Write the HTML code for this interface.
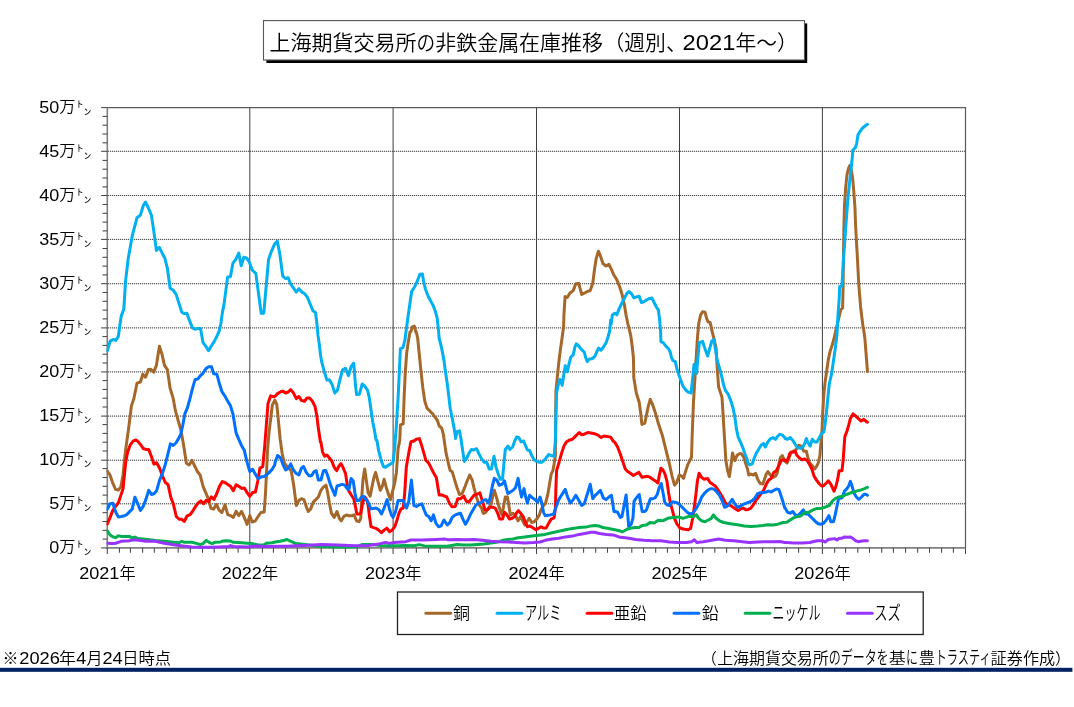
<!DOCTYPE html>
<html lang="ja"><head><meta charset="utf-8"><title>上海期貨交易所の非鉄金属在庫推移</title>
<style>html,body{margin:0;padding:0;background:#fff;}body{width:1074px;height:707px;overflow:hidden;position:relative;font-family:"Liberation Sans", "Noto Sans CJK JP", sans-serif;}svg{position:absolute;left:0;top:0;display:block;will-change:transform;}text{font-family:"Liberation Sans", "Noto Sans CJK JP", sans-serif;fill:#000;font-weight:350;}</style></head><body>
<svg width="1074" height="707" viewBox="0 0 1074 707">
<rect x="0" y="0" width="1074" height="707" fill="#fff"/>
<rect x="266.4" y="23.4" width="540.8" height="39.6" fill="#000"/>
<rect x="263.5" y="20.6" width="541" height="39.4" fill="#fff" stroke="#555" stroke-width="1.1"/>
<text x="269.5" y="50.2" font-size="20.9" textLength="147.0" lengthAdjust="spacingAndGlyphs">上海期貨交易所</text>
<text x="416.6" y="50.2" font-size="20.9" textLength="18.6" lengthAdjust="spacingAndGlyphs">の</text>
<text x="435.3" y="50.2" font-size="20.9" textLength="167.6" lengthAdjust="spacingAndGlyphs">非鉄金属在庫推移</text>
<text x="624.3" y="50.2" font-size="20.9" text-anchor="end">（</text>
<text x="624.3" y="50.2" font-size="20.9" textLength="41.6" lengthAdjust="spacingAndGlyphs">週別</text>
<text x="665.9" y="50.2" font-size="20.9">、</text>
<text x="682.6" y="49.7" font-size="21.6" textLength="52.8" lengthAdjust="spacingAndGlyphs">2021</text>
<text x="735.4" y="50.2" font-size="20.9" textLength="41.6" lengthAdjust="spacingAndGlyphs">年～</text>
<text x="777.0" y="50.2" font-size="20.9">）</text>
<line x1="108" y1="503.8" x2="965.5" y2="503.8" stroke="#dadada" stroke-width="1"/>
<line x1="108" y1="503.8" x2="965.5" y2="503.8" stroke="#444444" stroke-width="1" stroke-dasharray="1 1"/>
<line x1="108" y1="460.2" x2="965.5" y2="460.2" stroke="#dadada" stroke-width="1"/>
<line x1="108" y1="460.2" x2="965.5" y2="460.2" stroke="#444444" stroke-width="1" stroke-dasharray="1 1"/>
<line x1="108" y1="416.1" x2="965.5" y2="416.1" stroke="#dadada" stroke-width="1"/>
<line x1="108" y1="416.1" x2="965.5" y2="416.1" stroke="#444444" stroke-width="1" stroke-dasharray="1 1"/>
<line x1="108" y1="371.9" x2="965.5" y2="371.9" stroke="#dadada" stroke-width="1"/>
<line x1="108" y1="371.9" x2="965.5" y2="371.9" stroke="#444444" stroke-width="1" stroke-dasharray="1 1"/>
<line x1="108" y1="327.9" x2="965.5" y2="327.9" stroke="#dadada" stroke-width="1"/>
<line x1="108" y1="327.9" x2="965.5" y2="327.9" stroke="#444444" stroke-width="1" stroke-dasharray="1 1"/>
<line x1="108" y1="283.7" x2="965.5" y2="283.7" stroke="#dadada" stroke-width="1"/>
<line x1="108" y1="283.7" x2="965.5" y2="283.7" stroke="#444444" stroke-width="1" stroke-dasharray="1 1"/>
<line x1="108" y1="239.4" x2="965.5" y2="239.4" stroke="#dadada" stroke-width="1"/>
<line x1="108" y1="239.4" x2="965.5" y2="239.4" stroke="#444444" stroke-width="1" stroke-dasharray="1 1"/>
<line x1="108" y1="195.5" x2="965.5" y2="195.5" stroke="#dadada" stroke-width="1"/>
<line x1="108" y1="195.5" x2="965.5" y2="195.5" stroke="#444444" stroke-width="1" stroke-dasharray="1 1"/>
<line x1="108" y1="151.3" x2="965.5" y2="151.3" stroke="#dadada" stroke-width="1"/>
<line x1="108" y1="151.3" x2="965.5" y2="151.3" stroke="#444444" stroke-width="1" stroke-dasharray="1 1"/>
<line x1="249.8" y1="107.6" x2="249.8" y2="547.9" stroke="#3c3c3c" stroke-width="1.0"/>
<line x1="393.1" y1="107.6" x2="393.1" y2="547.9" stroke="#3c3c3c" stroke-width="1.0"/>
<line x1="536.5" y1="107.6" x2="536.5" y2="547.9" stroke="#3c3c3c" stroke-width="1.0"/>
<line x1="679.5" y1="107.6" x2="679.5" y2="547.9" stroke="#3c3c3c" stroke-width="1.0"/>
<line x1="822.4" y1="107.6" x2="822.4" y2="547.9" stroke="#3c3c3c" stroke-width="1.0"/>
<polyline fill="none" stroke="#5a5a5a" stroke-width="1.2" points="107.3,107.6 965.5,107.6 965.5,547.9"/>
<polyline fill="none" stroke="#808080" stroke-width="1.6" points="107.3,107.6 107.3,547.9 965.5,547.9"/>
<line x1="101.1" y1="547.9" x2="107.3" y2="547.9" stroke="#454545" stroke-width="1.05"/>
<line x1="102.5" y1="539.1" x2="107.3" y2="539.1" stroke="#454545" stroke-width="1.05"/>
<line x1="102.5" y1="530.3" x2="107.3" y2="530.3" stroke="#454545" stroke-width="1.05"/>
<line x1="102.5" y1="521.5" x2="107.3" y2="521.5" stroke="#454545" stroke-width="1.05"/>
<line x1="102.5" y1="512.7" x2="107.3" y2="512.7" stroke="#454545" stroke-width="1.05"/>
<line x1="101.1" y1="503.8" x2="107.3" y2="503.8" stroke="#454545" stroke-width="1.05"/>
<line x1="102.5" y1="495.1" x2="107.3" y2="495.1" stroke="#454545" stroke-width="1.05"/>
<line x1="102.5" y1="486.3" x2="107.3" y2="486.3" stroke="#454545" stroke-width="1.05"/>
<line x1="102.5" y1="477.5" x2="107.3" y2="477.5" stroke="#454545" stroke-width="1.05"/>
<line x1="102.5" y1="468.6" x2="107.3" y2="468.6" stroke="#454545" stroke-width="1.05"/>
<line x1="101.1" y1="460.2" x2="107.3" y2="460.2" stroke="#454545" stroke-width="1.05"/>
<line x1="102.5" y1="451.0" x2="107.3" y2="451.0" stroke="#454545" stroke-width="1.05"/>
<line x1="102.5" y1="442.2" x2="107.3" y2="442.2" stroke="#454545" stroke-width="1.05"/>
<line x1="102.5" y1="433.4" x2="107.3" y2="433.4" stroke="#454545" stroke-width="1.05"/>
<line x1="102.5" y1="424.6" x2="107.3" y2="424.6" stroke="#454545" stroke-width="1.05"/>
<line x1="101.1" y1="416.1" x2="107.3" y2="416.1" stroke="#454545" stroke-width="1.05"/>
<line x1="102.5" y1="407.0" x2="107.3" y2="407.0" stroke="#454545" stroke-width="1.05"/>
<line x1="102.5" y1="398.2" x2="107.3" y2="398.2" stroke="#454545" stroke-width="1.05"/>
<line x1="102.5" y1="389.4" x2="107.3" y2="389.4" stroke="#454545" stroke-width="1.05"/>
<line x1="102.5" y1="380.6" x2="107.3" y2="380.6" stroke="#454545" stroke-width="1.05"/>
<line x1="101.1" y1="371.9" x2="107.3" y2="371.9" stroke="#454545" stroke-width="1.05"/>
<line x1="102.5" y1="363.0" x2="107.3" y2="363.0" stroke="#454545" stroke-width="1.05"/>
<line x1="102.5" y1="354.2" x2="107.3" y2="354.2" stroke="#454545" stroke-width="1.05"/>
<line x1="102.5" y1="345.4" x2="107.3" y2="345.4" stroke="#454545" stroke-width="1.05"/>
<line x1="102.5" y1="336.6" x2="107.3" y2="336.6" stroke="#454545" stroke-width="1.05"/>
<line x1="101.1" y1="327.9" x2="107.3" y2="327.9" stroke="#454545" stroke-width="1.05"/>
<line x1="102.5" y1="318.9" x2="107.3" y2="318.9" stroke="#454545" stroke-width="1.05"/>
<line x1="102.5" y1="310.1" x2="107.3" y2="310.1" stroke="#454545" stroke-width="1.05"/>
<line x1="102.5" y1="301.3" x2="107.3" y2="301.3" stroke="#454545" stroke-width="1.05"/>
<line x1="102.5" y1="292.5" x2="107.3" y2="292.5" stroke="#454545" stroke-width="1.05"/>
<line x1="101.1" y1="283.7" x2="107.3" y2="283.7" stroke="#454545" stroke-width="1.05"/>
<line x1="102.5" y1="274.9" x2="107.3" y2="274.9" stroke="#454545" stroke-width="1.05"/>
<line x1="102.5" y1="266.1" x2="107.3" y2="266.1" stroke="#454545" stroke-width="1.05"/>
<line x1="102.5" y1="257.3" x2="107.3" y2="257.3" stroke="#454545" stroke-width="1.05"/>
<line x1="102.5" y1="248.5" x2="107.3" y2="248.5" stroke="#454545" stroke-width="1.05"/>
<line x1="101.1" y1="239.4" x2="107.3" y2="239.4" stroke="#454545" stroke-width="1.05"/>
<line x1="102.5" y1="230.9" x2="107.3" y2="230.9" stroke="#454545" stroke-width="1.05"/>
<line x1="102.5" y1="222.1" x2="107.3" y2="222.1" stroke="#454545" stroke-width="1.05"/>
<line x1="102.5" y1="213.3" x2="107.3" y2="213.3" stroke="#454545" stroke-width="1.05"/>
<line x1="102.5" y1="204.5" x2="107.3" y2="204.5" stroke="#454545" stroke-width="1.05"/>
<line x1="101.1" y1="195.5" x2="107.3" y2="195.5" stroke="#454545" stroke-width="1.05"/>
<line x1="102.5" y1="186.9" x2="107.3" y2="186.9" stroke="#454545" stroke-width="1.05"/>
<line x1="102.5" y1="178.0" x2="107.3" y2="178.0" stroke="#454545" stroke-width="1.05"/>
<line x1="102.5" y1="169.2" x2="107.3" y2="169.2" stroke="#454545" stroke-width="1.05"/>
<line x1="102.5" y1="160.4" x2="107.3" y2="160.4" stroke="#454545" stroke-width="1.05"/>
<line x1="101.1" y1="151.3" x2="107.3" y2="151.3" stroke="#454545" stroke-width="1.05"/>
<line x1="102.5" y1="142.8" x2="107.3" y2="142.8" stroke="#454545" stroke-width="1.05"/>
<line x1="102.5" y1="134.0" x2="107.3" y2="134.0" stroke="#454545" stroke-width="1.05"/>
<line x1="102.5" y1="125.2" x2="107.3" y2="125.2" stroke="#454545" stroke-width="1.05"/>
<line x1="102.5" y1="116.4" x2="107.3" y2="116.4" stroke="#454545" stroke-width="1.05"/>
<line x1="101.1" y1="107.6" x2="107.3" y2="107.6" stroke="#454545" stroke-width="1.05"/>
<line x1="107.3" y1="547.9" x2="107.3" y2="553.9" stroke="#454545" stroke-width="1.05"/>
<line x1="119.4" y1="547.9" x2="119.4" y2="552.8" stroke="#454545" stroke-width="1.05"/>
<line x1="130.4" y1="547.9" x2="130.4" y2="552.8" stroke="#454545" stroke-width="1.05"/>
<line x1="142.6" y1="547.9" x2="142.6" y2="552.8" stroke="#454545" stroke-width="1.05"/>
<line x1="154.3" y1="547.9" x2="154.3" y2="552.8" stroke="#454545" stroke-width="1.05"/>
<line x1="166.4" y1="547.9" x2="166.4" y2="552.8" stroke="#454545" stroke-width="1.05"/>
<line x1="178.2" y1="547.9" x2="178.2" y2="552.8" stroke="#454545" stroke-width="1.05"/>
<line x1="190.3" y1="547.9" x2="190.3" y2="552.8" stroke="#454545" stroke-width="1.05"/>
<line x1="202.5" y1="547.9" x2="202.5" y2="552.8" stroke="#454545" stroke-width="1.05"/>
<line x1="214.2" y1="547.9" x2="214.2" y2="552.8" stroke="#454545" stroke-width="1.05"/>
<line x1="226.4" y1="547.9" x2="226.4" y2="552.8" stroke="#454545" stroke-width="1.05"/>
<line x1="238.1" y1="547.9" x2="238.1" y2="552.8" stroke="#454545" stroke-width="1.05"/>
<line x1="249.8" y1="547.9" x2="249.8" y2="553.9" stroke="#454545" stroke-width="1.05"/>
<line x1="262.4" y1="547.9" x2="262.4" y2="552.8" stroke="#454545" stroke-width="1.05"/>
<line x1="273.4" y1="547.9" x2="273.4" y2="552.8" stroke="#454545" stroke-width="1.05"/>
<line x1="285.5" y1="547.9" x2="285.5" y2="552.8" stroke="#454545" stroke-width="1.05"/>
<line x1="297.3" y1="547.9" x2="297.3" y2="552.8" stroke="#454545" stroke-width="1.05"/>
<line x1="309.4" y1="547.9" x2="309.4" y2="552.8" stroke="#454545" stroke-width="1.05"/>
<line x1="321.2" y1="547.9" x2="321.2" y2="552.8" stroke="#454545" stroke-width="1.05"/>
<line x1="333.3" y1="547.9" x2="333.3" y2="552.8" stroke="#454545" stroke-width="1.05"/>
<line x1="345.4" y1="547.9" x2="345.4" y2="552.8" stroke="#454545" stroke-width="1.05"/>
<line x1="357.2" y1="547.9" x2="357.2" y2="552.8" stroke="#454545" stroke-width="1.05"/>
<line x1="369.3" y1="547.9" x2="369.3" y2="552.8" stroke="#454545" stroke-width="1.05"/>
<line x1="381.1" y1="547.9" x2="381.1" y2="552.8" stroke="#454545" stroke-width="1.05"/>
<line x1="393.1" y1="547.9" x2="393.1" y2="553.9" stroke="#454545" stroke-width="1.05"/>
<line x1="405.4" y1="547.9" x2="405.4" y2="552.8" stroke="#454545" stroke-width="1.05"/>
<line x1="416.3" y1="547.9" x2="416.3" y2="552.8" stroke="#454545" stroke-width="1.05"/>
<line x1="428.5" y1="547.9" x2="428.5" y2="552.8" stroke="#454545" stroke-width="1.05"/>
<line x1="440.2" y1="547.9" x2="440.2" y2="552.8" stroke="#454545" stroke-width="1.05"/>
<line x1="452.4" y1="547.9" x2="452.4" y2="552.8" stroke="#454545" stroke-width="1.05"/>
<line x1="464.1" y1="547.9" x2="464.1" y2="552.8" stroke="#454545" stroke-width="1.05"/>
<line x1="476.3" y1="547.9" x2="476.3" y2="552.8" stroke="#454545" stroke-width="1.05"/>
<line x1="488.4" y1="547.9" x2="488.4" y2="552.8" stroke="#454545" stroke-width="1.05"/>
<line x1="500.2" y1="547.9" x2="500.2" y2="552.8" stroke="#454545" stroke-width="1.05"/>
<line x1="512.3" y1="547.9" x2="512.3" y2="552.8" stroke="#454545" stroke-width="1.05"/>
<line x1="524.1" y1="547.9" x2="524.1" y2="552.8" stroke="#454545" stroke-width="1.05"/>
<line x1="536.5" y1="547.9" x2="536.5" y2="553.9" stroke="#454545" stroke-width="1.05"/>
<line x1="548.3" y1="547.9" x2="548.3" y2="552.8" stroke="#454545" stroke-width="1.05"/>
<line x1="559.7" y1="547.9" x2="559.7" y2="552.8" stroke="#454545" stroke-width="1.05"/>
<line x1="571.8" y1="547.9" x2="571.8" y2="552.8" stroke="#454545" stroke-width="1.05"/>
<line x1="583.6" y1="547.9" x2="583.6" y2="552.8" stroke="#454545" stroke-width="1.05"/>
<line x1="595.7" y1="547.9" x2="595.7" y2="552.8" stroke="#454545" stroke-width="1.05"/>
<line x1="607.5" y1="547.9" x2="607.5" y2="552.8" stroke="#454545" stroke-width="1.05"/>
<line x1="619.6" y1="547.9" x2="619.6" y2="552.8" stroke="#454545" stroke-width="1.05"/>
<line x1="631.8" y1="547.9" x2="631.8" y2="552.8" stroke="#454545" stroke-width="1.05"/>
<line x1="643.5" y1="547.9" x2="643.5" y2="552.8" stroke="#454545" stroke-width="1.05"/>
<line x1="655.7" y1="547.9" x2="655.7" y2="552.8" stroke="#454545" stroke-width="1.05"/>
<line x1="667.4" y1="547.9" x2="667.4" y2="552.8" stroke="#454545" stroke-width="1.05"/>
<line x1="679.5" y1="547.9" x2="679.5" y2="553.9" stroke="#454545" stroke-width="1.05"/>
<line x1="691.7" y1="547.9" x2="691.7" y2="552.8" stroke="#454545" stroke-width="1.05"/>
<line x1="702.7" y1="547.9" x2="702.7" y2="552.8" stroke="#454545" stroke-width="1.05"/>
<line x1="714.8" y1="547.9" x2="714.8" y2="552.8" stroke="#454545" stroke-width="1.05"/>
<line x1="726.6" y1="547.9" x2="726.6" y2="552.8" stroke="#454545" stroke-width="1.05"/>
<line x1="738.7" y1="547.9" x2="738.7" y2="552.8" stroke="#454545" stroke-width="1.05"/>
<line x1="750.5" y1="547.9" x2="750.5" y2="552.8" stroke="#454545" stroke-width="1.05"/>
<line x1="762.6" y1="547.9" x2="762.6" y2="552.8" stroke="#454545" stroke-width="1.05"/>
<line x1="774.7" y1="547.9" x2="774.7" y2="552.8" stroke="#454545" stroke-width="1.05"/>
<line x1="786.5" y1="547.9" x2="786.5" y2="552.8" stroke="#454545" stroke-width="1.05"/>
<line x1="798.6" y1="547.9" x2="798.6" y2="552.8" stroke="#454545" stroke-width="1.05"/>
<line x1="810.4" y1="547.9" x2="810.4" y2="552.8" stroke="#454545" stroke-width="1.05"/>
<line x1="822.4" y1="547.9" x2="822.4" y2="553.9" stroke="#454545" stroke-width="1.05"/>
<line x1="834.7" y1="547.9" x2="834.7" y2="552.8" stroke="#454545" stroke-width="1.05"/>
<line x1="845.6" y1="547.9" x2="845.6" y2="552.8" stroke="#454545" stroke-width="1.05"/>
<line x1="857.8" y1="547.9" x2="857.8" y2="552.8" stroke="#454545" stroke-width="1.05"/>
<line x1="869.5" y1="547.9" x2="869.5" y2="552.8" stroke="#454545" stroke-width="1.05"/>
<line x1="881.7" y1="547.9" x2="881.7" y2="552.8" stroke="#454545" stroke-width="1.05"/>
<line x1="893.4" y1="547.9" x2="893.4" y2="552.8" stroke="#454545" stroke-width="1.05"/>
<line x1="905.6" y1="547.9" x2="905.6" y2="552.8" stroke="#454545" stroke-width="1.05"/>
<line x1="917.7" y1="547.9" x2="917.7" y2="552.8" stroke="#454545" stroke-width="1.05"/>
<line x1="929.5" y1="547.9" x2="929.5" y2="552.8" stroke="#454545" stroke-width="1.05"/>
<line x1="941.6" y1="547.9" x2="941.6" y2="552.8" stroke="#454545" stroke-width="1.05"/>
<line x1="953.4" y1="547.9" x2="953.4" y2="552.8" stroke="#454545" stroke-width="1.05"/>
<line x1="965.5" y1="547.9" x2="965.5" y2="553.9" stroke="#454545" stroke-width="1.05"/>
<defs><clipPath id="plotclip"><rect x="106.5" y="100" width="870" height="452"/></clipPath></defs>
<g clip-path="url(#plotclip)">
<polyline fill="none" stroke="#a5682a" stroke-width="3" stroke-linejoin="round" stroke-linecap="round" points="107.4,471.1 110.1,475.2 112.9,483.4 115.6,489.5 118.4,489.9 120.8,487.1 123.0,475.2 124.8,456.8 126.7,442.1 128.5,429.2 131.4,406.1 133.9,398.4 137.0,383.2 140.4,382.0 142.8,374.2 145.5,377.2 148.4,369.6 150.9,369.3 153.8,372.1 156.4,365.3 159.4,346.2 162.0,354.3 164.5,365.3 167.4,369.6 170.1,388.3 173.0,397.6 175.5,411.2 180.9,430.1 183.7,445.7 186.4,463.2 189.2,465.0 191.9,460.4 194.7,466.0 197.4,471.5 200.2,475.2 203.0,486.2 205.7,492.6 208.5,499.1 210.9,508.3 213.6,509.2 216.4,504.2 219.1,510.1 221.9,512.5 225.0,504.9 227.8,514.7 230.5,515.6 233.3,517.4 236.1,511.4 238.8,515.6 241.6,511.4 244.3,517.4 247.1,524.4 249.8,515.6 252.2,522.0 255.4,520.8 258.1,516.5 260.9,512.5 264.2,511.9 265.5,493.5 266.4,475.2 267.7,447.6 269.2,431.0 272.3,405.2 274.8,400.1 276.8,404.7 278.5,421.7 280.2,439.4 282.2,453.8 284.4,463.1 287.0,466.5 291.2,470.7 293.8,486.0 296.3,505.5 298.9,500.4 301.4,498.7 303.9,499.6 306.5,507.2 308.2,511.5 310.7,508.9 313.3,502.1 315.8,499.6 318.4,497.0 320.9,490.3 323.5,486.9 326.0,485.2 327.7,492.8 329.4,503.0 331.4,513.2 334.2,517.4 337.0,511.5 339.3,518.3 341.3,520.8 343.8,516.6 346.4,514.9 348.9,515.7 351.5,515.7 354.0,514.9 356.6,520.8 359.1,521.7 360.8,518.3 361.7,497.9 363.0,479.2 364.7,469.0 366.4,480.9 368.1,492.8 370.1,496.2 371.8,487.7 373.9,477.5 375.6,472.4 377.8,480.9 380.3,490.3 382.4,486.0 384.1,479.2 386.3,487.7 388.8,495.3 390.5,499.6 392.2,492.8 394.8,482.6 396.4,472.4 398.1,448.7 399.8,440.2 400.4,425.0 403.2,423.9 404.1,397.9 405.3,372.4 406.6,353.8 408.3,341.9 410.0,332.0 410.9,331.7 412.2,326.9 414.3,326.1 416.0,332.5 416.3,332.0 417.7,338.5 419.4,355.5 421.1,372.4 422.8,387.7 424.8,401.3 427.0,408.1 429.5,410.6 432.1,413.2 434.6,416.6 437.2,420.0 439.2,425.9 441.8,428.4 443.5,435.2 445.9,452.1 448.5,463.9 450.2,470.7 452.2,471.6 454.4,479.2 457.0,487.7 459.5,494.5 462.1,493.6 464.6,487.7 467.2,480.9 469.7,475.0 472.2,480.1 473.9,487.7 476.5,497.0 479.0,504.7 481.6,508.1 483.3,513.5 485.8,512.3 488.4,508.1 490.9,504.7 492.6,497.0 494.3,490.3 496.4,497.0 498.6,505.5 500.3,510.6 502.0,514.9 504.2,503.0 505.3,497.0 507.4,497.0 508.7,504.7 510.4,514.9 513.0,513.2 515.5,515.7 518.1,520.8 520.6,516.6 523.2,521.7 524.9,525.0 526.9,521.7 529.1,518.3 531.7,522.5 534.2,521.7 536.7,519.1 539.3,514.9 541.0,509.8 543.5,505.5 545.6,503.0 547.8,494.5 549.5,484.3 551.2,474.1 552.9,470.7 554.1,463.9 555.4,455.5 555.9,391.3 557.1,379.4 558.8,362.4 560.5,348.9 562.2,337.0 563.6,326.8 563.9,315.2 565.1,296.6 567.3,297.4 569.8,293.2 573.2,290.6 575.8,283.8 578.8,283.5 580.0,288.1 581.7,294.5 584.3,293.2 587.3,291.5 590.2,290.6 592.8,283.0 594.5,269.4 596.2,258.4 598.4,251.2 600.4,255.8 602.9,263.5 606.0,266.0 608.9,264.3 611.4,269.4 614.0,275.3 616.8,279.6 619.8,287.2 622.2,294.9 624.4,305.0 626.1,315.2 627.8,323.7 628.7,326.8 630.7,335.3 632.1,345.5 633.4,357.3 633.8,377.7 636.3,393.0 639.2,402.3 640.6,412.5 641.9,424.4 644.8,423.2 646.5,415.0 648.2,406.6 650.2,399.4 652.4,404.0 655.0,411.7 656.7,417.6 658.4,423.5 660.6,430.3 662.6,436.3 666.9,453.8 669.4,463.9 672.0,475.8 674.5,485.2 676.7,482.6 679.3,475.0 681.3,475.8 683.5,478.4 685.5,471.6 687.7,464.8 689.8,460.6 691.5,457.2 692.0,440.2 692.7,421.8 693.5,401.5 694.9,379.4 696.2,357.3 697.4,338.7 698.7,323.6 700.5,315.2 702.5,311.8 705.0,312.2 706.7,318.6 708.1,322.0 710.1,322.4 711.3,327.1 711.8,330.2 713.9,338.7 716.1,348.0 716.9,362.4 717.8,376.0 718.6,387.0 720.3,392.1 722.0,397.2 722.9,411.7 723.7,425.2 725.9,460.6 727.6,470.7 729.3,476.7 731.0,465.6 732.5,452.9 734.8,460.6 737.0,455.5 739.0,453.8 741.5,453.8 744.1,458.0 745.8,463.9 747.5,469.0 748.8,475.0 750.9,474.1 753.4,475.0 755.6,473.3 757.7,479.2 760.2,483.5 762.8,484.0 764.5,479.2 766.2,474.1 767.9,471.6 770.4,475.0 772.9,477.5 775.5,476.2 777.2,473.3 778.9,463.9 780.6,457.2 782.3,455.5 784.5,460.6 785.1,461.4 787.1,463.1 789.3,457.2 791.0,452.1 793.6,451.2 796.1,449.5 798.7,445.3 801.2,446.1 803.8,451.2 806.3,451.2 808.0,458.0 809.7,463.1 812.2,465.6 814.8,469.0 816.5,466.5 818.2,463.1 819.9,455.5 820.7,445.3 821.6,436.8 822.1,428.6 822.8,411.7 823.8,394.7 825.0,382.8 826.7,370.9 828.4,359.0 830.1,351.4 832.6,343.8 834.3,337.0 840.9,309.3 842.6,308.1 843.1,286.4 843.5,252.4 843.9,227.0 844.5,205.2 845.6,188.3 847.0,174.7 848.7,167.9 849.9,165.3 851.6,171.3 852.8,179.8 853.8,191.7 855.0,208.6 855.5,223.6 856.3,238.9 857.2,254.1 858.0,269.4 858.7,283.0 859.6,294.9 860.6,306.7 861.8,316.9 863.1,327.1 863.5,328.5 864.9,338.7 866.1,353.9 866.9,364.1 867.4,371.4"/>
<polyline fill="none" stroke="#00b0f0" stroke-width="3" stroke-linejoin="round" stroke-linecap="round" points="107.3,350.9 110.2,341.1 113.2,339.5 115.8,340.4 118.3,336.5 119.5,328.0 121.2,316.1 123.8,309.3 125.5,281.8 128.0,259.8 129.2,253.0 132.2,236.0 137.0,217.7 140.4,215.1 143.3,205.5 145.5,202.1 148.4,208.0 151.4,215.1 154.0,232.6 156.4,250.4 159.4,247.4 162.5,253.8 164.8,258.1 167.4,268.3 170.1,288.3 173.3,290.3 176.0,294.1 179.8,305.9 181.8,312.2 184.4,313.6 186.9,313.2 189.4,320.4 192.5,328.0 195.0,329.2 197.9,328.5 200.5,328.5 203.0,342.4 205.7,346.2 208.6,350.6 211.5,345.8 214.1,341.6 216.8,336.5 219.3,330.6 220.8,323.8 222.5,311.9 223.9,305.1 227.6,277.1 230.4,276.7 232.9,263.2 235.8,259.4 238.8,253.0 241.2,265.7 243.9,257.2 246.8,258.1 249.4,262.3 252.2,270.0 255.8,273.4 261.2,313.2 263.8,313.2 268.5,259.8 271.4,251.3 274.8,243.6 275.1,243.8 277.3,241.2 279.8,253.9 282.7,276.0 285.6,278.6 288.2,277.7 290.7,284.2 293.4,287.9 296.3,292.1 298.9,288.7 301.9,292.1 304.8,293.8 307.3,297.2 310.2,304.0 312.9,310.8 315.5,312.5 316.7,321.8 318.0,335.4 319.2,343.6 320.6,355.5 321.8,362.2 324.3,371.6 326.9,380.1 329.4,379.7 332.0,384.3 334.8,393.1 337.4,390.3 340.1,379.2 342.6,369.9 345.5,368.2 348.4,375.8 351.1,366.5 353.7,363.1 354.5,372.4 355.4,384.3 356.6,394.5 359.4,394.2 362.2,384.0 364.7,386.0 367.6,390.3 369.3,397.9 371.0,409.8 372.7,421.7 374.4,430.1 376.1,440.2 376.9,440.3 378.6,450.4 381.2,460.6 383.4,466.5 385.4,467.3 388.0,465.6 390.5,463.9 393.1,462.2 394.8,447.0 396.4,425.0 398.1,397.9 399.3,372.4 400.4,348.7 402.9,347.8 404.9,340.2 407.1,323.5 409.2,308.3 411.7,291.3 414.6,287.0 417.3,281.1 419.9,274.3 422.4,274.0 423.6,281.1 425.3,288.7 427.9,295.5 430.4,300.6 432.9,304.9 435.5,311.7 437.2,318.4 438.5,330.3 439.2,338.5 441.4,347.0 444.0,360.6 445.1,369.2 447.1,382.8 448.8,396.4 450.2,408.3 451.9,416.7 453.6,425.2 455.3,435.4 455.6,438.5 457.0,431.7 459.5,430.8 461.2,440.2 462.9,452.1 464.3,461.4 466.8,458.0 469.2,452.9 471.4,449.5 473.9,450.0 476.5,448.7 479.0,453.8 481.6,458.9 484.1,462.2 486.7,462.2 489.2,469.0 491.4,469.0 494.0,456.3 496.0,467.3 498.6,475.0 500.3,479.2 502.5,479.2 504.2,460.6 505.3,449.5 507.9,446.1 509.9,449.5 512.6,447.0 514.7,441.0 516.7,436.8 518.9,437.6 521.1,441.9 523.7,441.0 525.7,446.1 527.4,450.0 529.6,450.4 531.7,455.5 534.2,459.7 536.7,461.4 539.3,462.2 541.8,462.2 543.9,460.6 546.1,458.0 548.6,454.6 551.2,455.5 554.1,456.3 555.4,440.2 555.9,415.0 556.6,393.0 558.3,384.5 560.0,379.4 562.2,385.3 563.9,374.3 565.3,365.8 567.3,371.8 569.0,364.1 570.7,357.3 573.2,354.8 574.9,347.2 576.3,343.8 578.3,345.5 580.9,348.9 584.3,352.2 585.6,357.3 587.2,361.6 589.4,359.0 591.9,358.7 594.8,356.5 597.0,351.4 598.7,348.0 600.9,350.2 603.3,347.2 606.0,342.9 608.0,337.0 609.7,331.0 610.6,320.3 611.1,324.2 612.3,315.2 614.8,313.2 616.8,314.9 619.3,308.4 621.9,303.0 624.4,298.3 627.0,293.2 629.2,291.5 631.7,294.0 633.8,297.9 636.3,296.9 639.2,296.2 641.4,302.5 643.9,301.7 646.5,300.0 649.0,298.6 651.9,297.9 654.1,302.5 656.2,306.7 658.4,310.1 659.7,320.3 660.6,331.9 660.9,341.7 663.5,342.9 666.0,346.3 668.6,348.9 670.3,352.2 671.4,357.3 672.8,360.4 675.3,361.6 677.0,369.2 678.7,374.3 680.4,379.4 683.0,386.2 685.5,389.6 688.1,392.1 691.1,393.0 692.7,377.7 694.0,364.5 695.4,365.0 696.6,373.5 697.9,357.3 699.4,342.9 702.5,341.2 705.0,348.9 707.6,356.0 710.1,347.2 711.8,341.2 713.9,339.5 715.6,350.6 716.9,359.0 718.6,365.0 720.3,370.9 722.0,377.7 723.7,385.3 725.4,390.4 728.0,393.8 730.5,399.8 733.1,408.3 734.8,416.7 736.4,428.6 738.1,436.8 740.7,442.7 743.2,448.7 744.9,453.8 746.6,458.0 748.3,463.9 750.0,464.8 752.2,463.9 753.9,458.9 756.0,453.8 758.5,449.5 761.1,445.3 763.6,443.6 765.3,447.0 767.9,441.9 770.4,438.8 772.9,437.6 775.5,439.3 777.2,436.8 779.7,434.2 782.3,435.1 784.8,437.6 785.1,438.5 787.6,439.3 790.2,437.6 792.7,440.2 795.3,444.4 797.8,447.8 800.4,448.3 802.9,447.0 805.1,442.7 806.3,438.5 808.0,442.7 810.2,446.1 812.2,439.3 814.8,441.9 817.0,441.9 819.4,437.6 821.6,433.4 823.8,432.0 825.0,425.2 826.2,415.0 827.5,401.5 829.2,384.5 831.8,372.6 833.5,360.7 835.2,348.9 836.9,335.3 838.0,315.2 839.2,298.3 839.7,286.4 841.9,286.0 842.6,274.5 843.6,257.5 844.8,240.6 846.0,223.6 848.2,195.0 849.9,179.8 851.2,167.9 852.4,156.0 852.8,150.1 855.5,147.5 856.7,143.3 858.0,134.8 860.1,131.4 862.6,128.0 865.2,125.8 867.4,124.3"/>
<polyline fill="none" stroke="#ff0000" stroke-width="3" stroke-linejoin="round" stroke-linecap="round" points="107.4,523.9 110.1,517.4 112.9,510.1 115.6,506.4 118.4,502.7 120.8,495.4 123.0,488.9 125.7,462.3 127.6,452.2 130.3,444.8 133.1,441.1 135.9,439.9 138.6,442.1 141.4,445.7 143.2,448.5 146.0,449.4 148.7,449.4 151.5,456.8 153.9,464.1 156.6,462.7 159.4,467.8 162.5,476.1 165.3,482.5 168.0,484.4 170.8,497.2 173.5,504.6 176.3,516.5 179.1,519.3 181.8,519.3 184.2,521.5 187.0,516.0 190.1,514.7 192.8,511.0 195.6,506.4 198.4,502.7 200.8,500.9 203.5,503.7 206.3,500.3 208.5,501.8 211.2,496.9 214.0,499.4 216.8,493.5 219.5,486.2 222.3,481.6 225.0,482.5 227.8,484.4 230.5,486.2 233.3,490.8 236.1,484.7 238.8,486.2 241.6,488.4 244.3,488.0 247.1,492.6 249.8,496.3 252.6,492.6 255.4,492.1 257.8,480.7 260.0,467.8 262.7,466.9 264.6,447.6 268.0,403.5 270.6,395.9 273.5,396.7 275.1,396.2 277.6,393.6 280.2,392.0 282.7,391.1 285.6,393.1 288.2,392.0 290.7,389.7 293.4,392.8 296.3,398.7 298.9,396.5 301.4,400.4 304.5,401.3 307.0,397.9 309.5,397.9 312.4,401.3 315.0,406.4 316.7,414.9 318.4,428.4 320.4,442.0 320.9,441.9 322.6,452.1 324.7,456.3 326.9,455.1 329.4,458.0 332.0,461.4 334.2,467.3 336.7,470.7 338.7,466.5 340.9,463.6 343.0,467.3 345.5,473.3 347.2,484.3 348.9,491.1 351.5,495.3 353.7,498.7 355.4,506.4 356.9,514.0 359.1,514.0 360.8,513.2 363.0,501.3 365.0,497.0 367.6,501.3 369.3,514.9 371.0,526.7 373.5,527.6 376.1,528.4 378.6,530.1 381.5,532.7 384.1,530.1 386.8,528.1 389.7,531.8 392.2,530.1 394.8,526.7 397.0,520.0 399.0,513.2 401.0,508.9 403.2,508.1 404.6,494.5 406.3,467.3 408.3,455.5 410.9,441.9 411.4,441.5 413.4,441.0 413.9,441.2 416.3,439.2 419.4,438.6 421.6,445.3 423.6,452.1 425.8,460.2 428.7,463.1 431.2,468.2 433.8,473.3 436.3,477.5 438.0,487.7 439.2,495.0 441.8,495.0 444.0,495.9 446.8,497.0 449.3,503.0 451.9,506.7 455.3,506.4 457.8,498.7 460.4,498.7 463.8,496.2 466.3,501.3 468.9,502.1 471.4,498.7 473.9,495.3 476.5,494.5 479.9,492.8 482.4,501.3 485.0,509.8 487.5,509.8 490.1,507.2 492.6,507.2 495.2,508.1 497.7,513.2 499.7,519.1 502.5,519.1 504.5,512.3 507.0,514.9 509.6,519.1 512.1,518.3 514.7,516.6 516.4,513.2 518.4,510.6 520.6,513.2 523.2,516.6 525.4,522.5 527.4,526.7 530.0,525.9 532.5,527.6 535.9,529.8 538.4,528.4 541.0,526.7 543.5,528.1 546.1,528.1 548.6,523.4 551.2,519.1 554.1,517.9 555.4,508.1 555.9,487.7 556.6,470.7 558.8,463.1 561.4,453.8 563.9,446.1 566.4,441.9 569.0,440.2 572.4,439.3 575.8,435.9 579.2,432.5 581.7,434.8 584.3,434.2 587.7,432.5 591.1,433.1 594.5,433.7 597.9,435.1 601.2,437.6 603.8,435.9 607.2,436.4 610.6,437.1 613.1,441.0 615.1,442.7 617.6,447.0 620.2,453.8 622.7,461.4 625.3,469.0 627.8,471.6 630.4,473.3 633.4,475.5 636.3,473.8 638.9,472.4 641.9,477.2 644.8,476.7 647.3,476.3 649.9,477.2 652.4,478.9 655.5,480.9 658.0,483.0 659.2,475.8 660.9,468.2 662.6,469.4 664.7,473.3 666.9,480.9 668.6,492.8 670.3,503.0 672.0,508.9 674.5,518.3 677.0,524.2 679.6,527.6 682.1,528.8 684.7,529.3 688.1,529.8 690.6,528.4 692.7,518.3 694.4,506.4 696.1,492.8 697.4,480.9 699.1,473.3 701.7,477.5 704.2,479.2 707.6,478.4 710.1,482.6 712.7,484.3 715.2,486.0 717.8,489.4 720.3,493.6 722.9,497.9 725.4,503.0 728.0,504.7 730.5,505.5 733.1,507.2 735.6,508.9 738.1,510.6 740.7,508.9 743.2,508.1 745.8,509.8 748.3,509.4 750.9,508.1 753.4,504.7 756.0,500.4 758.5,497.0 761.1,493.6 763.6,490.3 766.2,484.3 768.7,480.1 771.2,478.4 773.8,472.4 776.3,470.7 778.9,465.6 781.1,460.6 784.0,459.7 786.8,461.4 788.5,457.2 790.2,452.9 792.7,452.1 795.3,451.2 797.0,455.5 799.5,458.0 802.1,459.7 804.6,458.9 807.2,460.6 809.7,464.8 811.9,469.0 813.9,475.8 816.5,480.1 819.0,483.5 821.6,486.0 823.3,486.0 825.8,483.5 828.4,480.9 830.9,484.3 834.0,491.1 836.0,486.0 837.7,479.2 839.1,470.7 842.0,470.7 843.1,460.6 844.2,445.3 844.8,436.8 845.3,435.4 847.0,431.0 848.7,425.2 850.4,418.4 853.0,413.9 855.5,415.9 858.1,418.4 861.1,421.0 863.7,419.3 865.7,421.0 867.4,422.2"/>
<polyline fill="none" stroke="#0070ff" stroke-width="3" stroke-linejoin="round" stroke-linecap="round" points="107.4,509.2 110.1,503.7 112.9,503.3 115.6,511.9 118.4,516.9 121.1,516.5 123.9,516.0 126.7,514.7 129.4,511.9 132.2,509.2 134.9,497.2 137.7,503.7 140.4,510.5 143.2,506.4 146.0,499.1 148.7,490.4 151.5,494.5 154.2,493.5 156.6,490.8 159.4,480.7 162.1,474.2 164.9,466.0 167.7,454.9 170.4,443.9 173.2,445.4 175.9,443.0 178.7,438.4 180.9,433.8 182.7,425.5 184.9,413.7 187.4,407.8 190.0,398.4 192.5,388.3 195.0,379.8 197.9,378.9 200.5,375.5 203.0,373.3 206.1,368.4 208.6,366.7 211.5,366.7 213.7,373.8 216.8,374.2 219.3,383.2 221.9,391.7 224.8,395.9 227.6,401.0 230.4,405.6 232.9,413.7 236.1,432.9 238.8,439.3 241.6,445.7 244.3,450.3 247.1,462.3 249.8,471.5 252.6,469.3 255.4,474.2 258.1,478.8 260.9,477.0 263.6,476.6 266.4,475.2 269.2,472.4 271.9,469.6 274.7,465.0 275.1,462.2 277.6,455.5 280.5,458.0 283.1,464.8 285.6,469.9 288.2,468.2 290.7,463.9 293.4,469.9 296.0,473.3 298.9,475.0 301.4,468.2 303.6,466.5 306.2,472.4 309.0,475.8 311.6,475.8 314.1,471.6 316.2,470.7 318.4,480.1 320.9,480.1 323.5,470.7 325.7,470.4 327.7,475.8 330.3,484.3 332.8,490.3 335.0,495.3 337.0,486.0 339.6,485.2 342.1,484.3 344.7,485.2 347.2,488.6 348.9,489.4 351.1,478.4 353.2,480.9 354.9,492.8 356.6,500.4 359.1,500.4 361.7,497.0 363.4,496.2 365.9,499.6 368.4,503.0 371.0,508.9 373.5,508.4 376.1,508.1 379.0,509.8 381.5,514.0 384.1,508.1 387.1,499.6 389.7,509.8 391.4,514.9 393.1,517.4 395.6,511.5 398.1,500.4 400.7,500.4 403.2,500.4 404.9,505.5 406.6,508.1 408.8,501.3 411.4,480.1 413.9,505.5 416.5,506.4 419.4,504.7 421.9,503.8 424.1,509.8 426.2,514.9 428.7,516.6 431.2,520.8 433.5,514.9 436.0,523.4 438.5,526.7 441.1,525.9 444.0,520.0 447.3,525.0 449.8,522.5 452.2,517.4 455.3,514.9 457.8,514.0 460.4,513.2 462.9,519.1 465.5,524.2 468.0,520.0 470.6,514.0 473.1,509.8 475.6,505.5 478.2,503.0 480.7,503.0 483.3,500.4 485.8,499.6 488.4,503.0 490.1,497.9 492.3,486.0 494.3,478.4 496.9,480.1 499.1,485.2 502.0,484.3 504.5,480.9 506.2,487.7 507.9,493.6 510.4,492.0 513.0,490.3 515.5,487.7 518.1,478.4 519.8,488.6 521.5,497.0 524.0,488.6 525.7,497.0 527.4,503.0 529.6,495.3 532.5,497.9 535.0,499.6 537.6,502.1 540.1,497.0 541.8,503.0 543.5,512.3 545.2,515.7 547.8,515.2 550.3,514.9 553.7,514.0 556.3,506.4 558.8,499.6 561.4,495.3 565.3,489.4 567.6,497.0 570.4,503.0 573.2,499.6 575.8,495.3 578.3,499.6 581.7,505.5 584.3,503.8 587.7,492.8 590.2,484.3 592.8,498.7 595.3,495.3 597.9,492.8 600.4,490.3 603.3,497.9 606.0,499.6 608.9,497.0 611.4,495.3 614.0,511.5 615.1,511.5 617.6,512.3 620.2,517.4 621.9,516.6 623.9,506.4 626.1,495.0 627.5,511.5 628.7,526.7 631.2,524.2 632.9,518.3 634.1,501.3 636.3,497.9 639.2,494.5 640.6,503.0 642.2,511.5 644.8,511.5 646.5,509.8 648.2,504.7 650.4,498.7 652.8,498.7 655.0,497.9 657.2,494.5 659.2,487.7 661.3,483.5 663.0,492.8 664.7,502.1 666.9,504.7 669.4,505.5 672.0,502.1 674.5,502.1 677.0,502.6 679.6,504.7 682.1,507.2 684.7,509.8 687.2,512.3 689.8,514.0 692.7,513.2 694.9,510.6 697.4,506.4 699.6,502.1 701.7,497.0 704.2,493.6 706.7,491.1 709.3,489.1 711.8,488.6 714.4,489.4 716.9,492.0 719.5,495.3 722.0,500.4 724.6,507.2 727.1,506.4 729.7,503.0 732.2,499.3 734.8,503.8 737.3,507.2 739.8,506.4 742.4,504.7 745.8,503.3 749.2,502.1 752.6,500.4 755.1,497.9 757.7,493.6 760.2,492.8 763.6,492.5 766.2,492.0 768.7,491.1 771.2,492.0 773.8,490.3 776.3,489.1 778.9,489.4 780.6,494.5 782.8,501.3 784.8,508.1 785.1,508.1 787.6,512.3 790.2,513.2 792.7,511.5 795.3,514.9 797.8,515.7 800.4,513.2 803.4,509.8 805.5,514.0 808.0,514.0 810.6,516.6 813.1,519.1 815.6,521.7 818.2,523.7 820.7,524.2 823.3,523.4 825.8,520.8 828.9,515.7 830.9,521.7 833.5,521.7 835.2,514.9 836.9,506.4 838.6,498.7 842.0,497.9 844.5,491.1 847.0,488.6 848.7,486.0 850.4,481.3 852.1,486.0 853.8,492.8 856.4,497.0 858.9,499.3 861.5,497.0 864.0,494.2 865.7,494.2 867.4,495.3"/>
<polyline fill="none" stroke="#00b050" stroke-width="3" stroke-linejoin="round" stroke-linecap="round" points="107.4,531.2 110.1,534.9 112.9,536.8 115.6,537.7 118.4,535.8 121.1,536.4 129.4,536.4 132.2,538.0 134.9,537.1 137.7,538.6 147.8,539.5 155.2,540.4 164.4,541.3 173.5,542.3 179.1,542.8 181.8,541.3 184.6,542.3 191.9,542.3 197.4,543.6 200.2,544.7 203.0,543.6 206.3,540.4 209.0,542.3 212.2,543.6 214.9,542.3 220.4,541.9 223.2,541.0 225.9,540.8 230.5,541.0 233.3,542.3 241.6,542.8 247.1,543.2 252.6,543.6 258.1,545.0 263.6,545.0 266.4,543.2 271.9,542.8 275.1,542.0 280.2,541.2 284.4,540.3 287.0,539.5 290.4,541.2 295.5,543.4 300.6,544.1 309.0,545.1 320.9,546.4 334.5,546.9 346.4,546.8 351.5,547.1 358.3,546.4 362.5,544.4 366.7,544.6 371.8,544.6 380.3,545.4 388.8,545.8 397.3,545.8 405.8,545.4 414.3,545.8 419.4,544.6 424.5,545.9 432.9,546.3 439.7,546.3 446.8,546.3 451.9,545.4 457.0,544.6 463.8,545.1 470.6,545.1 477.3,544.6 484.1,544.1 490.9,542.9 497.7,542.0 502.8,540.3 507.9,539.5 513.0,539.0 518.1,537.8 524.9,536.9 531.7,536.1 538.4,535.2 545.2,534.4 552.0,532.7 558.8,531.3 565.6,529.8 572.4,528.4 579.2,527.6 586.0,527.1 591.1,525.9 595.3,525.4 598.7,525.9 602.9,527.6 609.7,528.8 614.8,529.8 618.5,530.5 622.7,531.8 627.0,529.3 631.2,528.1 635.5,527.6 638.9,527.6 642.2,525.4 646.5,525.0 649.9,522.5 654.1,523.0 658.4,520.3 662.6,520.8 667.7,518.3 672.8,517.4 677.9,516.9 683.0,518.3 688.1,516.6 693.2,516.6 696.6,514.9 698.3,517.9 701.7,520.8 705.0,521.7 708.4,520.0 711.0,518.6 713.5,514.9 716.1,518.3 719.5,520.8 723.7,522.5 728.8,523.4 733.9,524.2 739.0,525.0 744.1,525.9 750.9,526.4 757.7,525.9 762.8,525.4 767.9,524.7 772.9,525.0 778.0,524.2 783.1,522.5 786.8,522.2 790.2,520.0 793.6,517.9 797.0,516.6 800.4,516.2 804.6,512.8 808.9,512.3 813.1,509.8 816.5,508.6 820.7,508.4 825.0,507.2 829.2,505.5 832.6,500.9 835.2,498.7 838.6,497.0 842.8,496.2 847.0,494.2 851.3,492.8 855.5,491.4 859.8,490.3 864.0,488.9 867.4,487.4"/>
<polyline fill="none" stroke="#9933ff" stroke-width="3" stroke-linejoin="round" stroke-linecap="round" points="107.4,543.2 112.9,543.6 115.6,543.2 118.4,542.3 121.1,541.3 129.4,540.8 133.1,539.9 136.8,540.1 146.0,541.3 155.2,541.3 164.4,543.2 173.5,544.7 182.7,545.9 191.9,546.9 201.1,547.2 210.3,547.2 219.5,546.9 228.7,546.5 230.5,545.6 233.3,546.5 247.1,546.9 256.3,545.9 265.5,546.5 280.2,546.3 287.0,546.3 295.5,545.8 303.9,545.4 320.9,544.6 337.9,545.1 354.9,545.8 368.4,545.4 378.6,544.1 385.4,542.4 389.7,543.4 393.9,542.4 405.8,541.7 410.9,540.0 422.8,540.0 436.3,539.5 444.8,539.1 448.5,539.8 457.0,539.5 465.5,539.8 473.9,539.5 482.4,540.3 490.9,541.2 499.4,541.7 507.9,542.0 516.4,542.4 524.9,542.9 533.4,542.5 540.1,542.0 545.2,540.3 552.0,539.1 558.8,538.3 565.6,536.9 572.4,536.1 579.2,534.4 586.0,533.2 591.1,532.3 594.5,532.3 599.5,533.5 606.3,534.4 613.1,534.9 616.8,536.1 620.2,537.3 625.3,537.8 630.4,538.6 635.5,539.5 643.9,540.3 652.4,540.7 660.9,540.7 669.4,542.0 677.9,542.4 686.4,542.4 691.5,541.7 694.4,539.8 696.6,542.4 703.4,541.7 711.8,540.3 718.6,539.1 725.4,540.3 733.9,540.8 742.4,541.7 749.2,542.4 757.7,542.0 766.2,541.7 772.9,541.7 779.7,541.5 784.8,542.4 786.8,542.5 793.6,542.9 802.1,542.9 809.7,542.5 813.9,541.5 817.3,540.8 822.4,540.7 825.0,542.0 828.4,539.5 831.8,539.1 834.3,538.6 836.9,540.0 839.4,538.3 842.0,538.3 844.5,536.9 847.9,537.3 850.4,536.9 853.0,538.6 855.5,540.7 858.1,541.7 860.6,541.2 864.0,540.8 867.4,540.8"/>
</g>
<text x="59.2" y="553.4" font-size="16.8" text-anchor="end" textLength="10.0" lengthAdjust="spacingAndGlyphs">0</text>
<text x="59.3" y="552.4" font-size="15.7" textLength="16.2" lengthAdjust="spacingAndGlyphs">万</text>
<text x="76.3" y="554.1" font-size="16.7" textLength="15.2" lengthAdjust="spacingAndGlyphs">㌧</text>
<text x="59.2" y="509.4" font-size="16.8" text-anchor="end" textLength="10.0" lengthAdjust="spacingAndGlyphs">5</text>
<text x="59.3" y="508.4" font-size="15.7" textLength="16.2" lengthAdjust="spacingAndGlyphs">万</text>
<text x="76.3" y="510.1" font-size="16.7" textLength="15.2" lengthAdjust="spacingAndGlyphs">㌧</text>
<text x="59.2" y="465.3" font-size="16.8" text-anchor="end" textLength="20.0" lengthAdjust="spacingAndGlyphs">10</text>
<text x="59.3" y="464.3" font-size="15.7" textLength="16.2" lengthAdjust="spacingAndGlyphs">万</text>
<text x="76.3" y="466.0" font-size="16.7" textLength="15.2" lengthAdjust="spacingAndGlyphs">㌧</text>
<text x="59.2" y="421.3" font-size="16.8" text-anchor="end" textLength="20.0" lengthAdjust="spacingAndGlyphs">15</text>
<text x="59.3" y="420.3" font-size="15.7" textLength="16.2" lengthAdjust="spacingAndGlyphs">万</text>
<text x="76.3" y="422.0" font-size="16.7" textLength="15.2" lengthAdjust="spacingAndGlyphs">㌧</text>
<text x="59.2" y="377.3" font-size="16.8" text-anchor="end" textLength="20.0" lengthAdjust="spacingAndGlyphs">20</text>
<text x="59.3" y="376.3" font-size="15.7" textLength="16.2" lengthAdjust="spacingAndGlyphs">万</text>
<text x="76.3" y="378.0" font-size="16.7" textLength="15.2" lengthAdjust="spacingAndGlyphs">㌧</text>
<text x="59.2" y="333.2" font-size="16.8" text-anchor="end" textLength="20.0" lengthAdjust="spacingAndGlyphs">25</text>
<text x="59.3" y="332.2" font-size="15.7" textLength="16.2" lengthAdjust="spacingAndGlyphs">万</text>
<text x="76.3" y="333.9" font-size="16.7" textLength="15.2" lengthAdjust="spacingAndGlyphs">㌧</text>
<text x="59.2" y="289.2" font-size="16.8" text-anchor="end" textLength="20.0" lengthAdjust="spacingAndGlyphs">30</text>
<text x="59.3" y="288.2" font-size="15.7" textLength="16.2" lengthAdjust="spacingAndGlyphs">万</text>
<text x="76.3" y="289.9" font-size="16.7" textLength="15.2" lengthAdjust="spacingAndGlyphs">㌧</text>
<text x="59.2" y="245.2" font-size="16.8" text-anchor="end" textLength="20.0" lengthAdjust="spacingAndGlyphs">35</text>
<text x="59.3" y="244.2" font-size="15.7" textLength="16.2" lengthAdjust="spacingAndGlyphs">万</text>
<text x="76.3" y="245.9" font-size="16.7" textLength="15.2" lengthAdjust="spacingAndGlyphs">㌧</text>
<text x="59.2" y="201.2" font-size="16.8" text-anchor="end" textLength="20.0" lengthAdjust="spacingAndGlyphs">40</text>
<text x="59.3" y="200.2" font-size="15.7" textLength="16.2" lengthAdjust="spacingAndGlyphs">万</text>
<text x="76.3" y="201.9" font-size="16.7" textLength="15.2" lengthAdjust="spacingAndGlyphs">㌧</text>
<text x="59.2" y="157.1" font-size="16.8" text-anchor="end" textLength="20.0" lengthAdjust="spacingAndGlyphs">45</text>
<text x="59.3" y="156.1" font-size="15.7" textLength="16.2" lengthAdjust="spacingAndGlyphs">万</text>
<text x="76.3" y="157.8" font-size="16.7" textLength="15.2" lengthAdjust="spacingAndGlyphs">㌧</text>
<text x="59.2" y="113.1" font-size="16.8" text-anchor="end" textLength="20.0" lengthAdjust="spacingAndGlyphs">50</text>
<text x="59.3" y="112.1" font-size="15.7" textLength="16.2" lengthAdjust="spacingAndGlyphs">万</text>
<text x="76.3" y="113.8" font-size="16.7" textLength="15.2" lengthAdjust="spacingAndGlyphs">㌧</text>
<text x="79.2" y="579.0" font-size="16.8" textLength="40.2" lengthAdjust="spacingAndGlyphs">2021</text>
<text x="119.4" y="579.3" font-size="16.1" textLength="16.2" lengthAdjust="spacingAndGlyphs">年</text>
<text x="221.7" y="579.0" font-size="16.8" textLength="40.2" lengthAdjust="spacingAndGlyphs">2022</text>
<text x="261.9" y="579.3" font-size="16.1" textLength="16.2" lengthAdjust="spacingAndGlyphs">年</text>
<text x="365.0" y="579.0" font-size="16.8" textLength="40.2" lengthAdjust="spacingAndGlyphs">2023</text>
<text x="405.2" y="579.3" font-size="16.1" textLength="16.2" lengthAdjust="spacingAndGlyphs">年</text>
<text x="508.4" y="579.0" font-size="16.8" textLength="40.2" lengthAdjust="spacingAndGlyphs">2024</text>
<text x="548.6" y="579.3" font-size="16.1" textLength="16.2" lengthAdjust="spacingAndGlyphs">年</text>
<text x="651.4" y="579.0" font-size="16.8" textLength="40.2" lengthAdjust="spacingAndGlyphs">2025</text>
<text x="691.6" y="579.3" font-size="16.1" textLength="16.2" lengthAdjust="spacingAndGlyphs">年</text>
<text x="794.3" y="579.0" font-size="16.8" textLength="40.2" lengthAdjust="spacingAndGlyphs">2026</text>
<text x="834.5" y="579.3" font-size="16.1" textLength="16.2" lengthAdjust="spacingAndGlyphs">年</text>
<rect x="397.5" y="592.0" width="525.7" height="42.5" fill="#fff" stroke="#222" stroke-width="1.3"/>
<line x1="425.9" y1="613.2" x2="450.6" y2="613.2" stroke="#a5682a" stroke-width="3" stroke-linecap="round"/>
<text x="453.0" y="619.0" font-size="16.3" textLength="17.0" lengthAdjust="spacingAndGlyphs">銅</text>
<line x1="497.1" y1="613.2" x2="521.8" y2="613.2" stroke="#00b0f0" stroke-width="3" stroke-linecap="round"/>
<text x="524.9" y="619.9" font-size="18.8" textLength="36.6" lengthAdjust="spacingAndGlyphs">アルミ</text>
<line x1="587.1" y1="613.2" x2="611.8" y2="613.2" stroke="#ff0000" stroke-width="3" stroke-linecap="round"/>
<text x="614.0" y="619.0" font-size="16.3" textLength="32.6" lengthAdjust="spacingAndGlyphs">亜鉛</text>
<line x1="674.1" y1="613.2" x2="698.8" y2="613.2" stroke="#0070ff" stroke-width="3" stroke-linecap="round"/>
<text x="701.7" y="619.0" font-size="16.3" textLength="17.0" lengthAdjust="spacingAndGlyphs">鉛</text>
<line x1="745.2" y1="613.2" x2="769.9" y2="613.2" stroke="#00b050" stroke-width="3" stroke-linecap="round"/>
<text x="772.6" y="619.9" font-size="18.8" textLength="48.0" lengthAdjust="spacingAndGlyphs">ニッケル</text>
<line x1="847.5" y1="613.2" x2="872.2" y2="613.2" stroke="#9933ff" stroke-width="3" stroke-linecap="round"/>
<text x="874.2" y="619.9" font-size="18.8" textLength="26.6" lengthAdjust="spacingAndGlyphs">スズ</text>
<text x="2.6" y="663.6" font-size="15.6" textLength="16.0" lengthAdjust="spacingAndGlyphs">※</text>
<text x="19.3" y="663.7" font-size="16.8" textLength="40.6" lengthAdjust="spacingAndGlyphs">2026</text>
<text x="59.0" y="663.6" font-size="15.6" textLength="17.0" lengthAdjust="spacingAndGlyphs">年</text>
<text x="76.3" y="663.7" font-size="16.8" textLength="10.0" lengthAdjust="spacingAndGlyphs">4</text>
<text x="86.5" y="663.6" font-size="15.6" textLength="16.0" lengthAdjust="spacingAndGlyphs">月</text>
<text x="102.5" y="663.7" font-size="16.8" textLength="20.2" lengthAdjust="spacingAndGlyphs">24</text>
<text x="122.2" y="663.6" font-size="15.6" textLength="48.8" lengthAdjust="spacingAndGlyphs">日時点</text>
<text x="716.9" y="663.6" font-size="15.6" text-anchor="end">（</text>
<text x="717.2" y="663.6" font-size="15.6" textLength="111.5" lengthAdjust="spacingAndGlyphs">上海期貨交易所</text>
<text x="828.7" y="664.2" font-size="18.0" textLength="59.9" lengthAdjust="spacingAndGlyphs">のデータを</text>
<text x="888.7" y="663.6" font-size="15.6" textLength="17.0" lengthAdjust="spacingAndGlyphs">基</text>
<text x="905.9" y="664.2" font-size="18.0" textLength="11.8" lengthAdjust="spacingAndGlyphs">に</text>
<text x="918.8" y="663.6" font-size="15.6" textLength="16.3" lengthAdjust="spacingAndGlyphs">豊</text>
<text x="935.6" y="664.2" font-size="18.0" textLength="55.0" lengthAdjust="spacingAndGlyphs">トラスティ</text>
<text x="990.6" y="663.6" font-size="15.6" textLength="64.6" lengthAdjust="spacingAndGlyphs">証券作成</text>
<text x="1055.0" y="663.6" font-size="15.6">）</text>
<rect x="0" y="667.8" width="1072.4" height="4" fill="#002060"/>
</svg></body></html>
